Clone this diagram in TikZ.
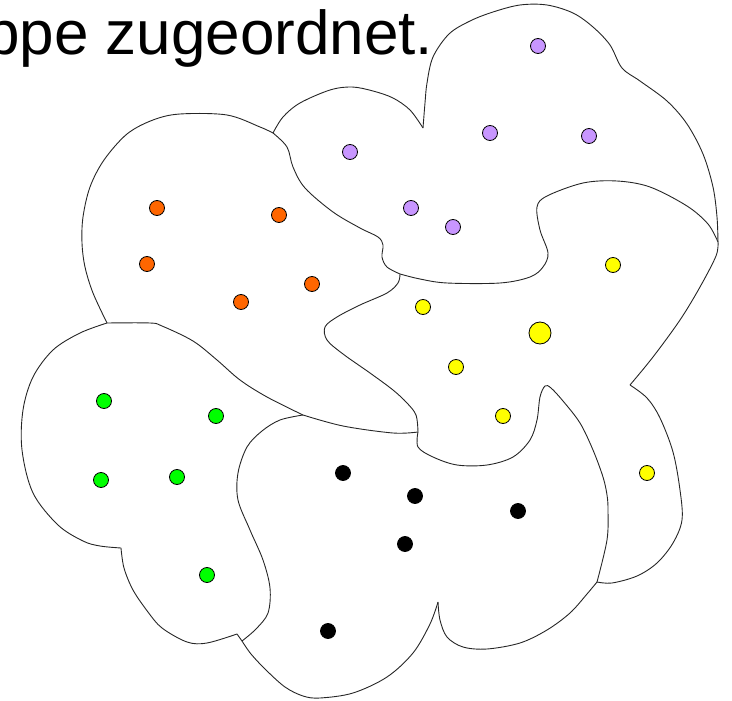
\documentclass[tikz,border=0pt]{standalone}
\usepackage{fontspec}
\setmainfont{Liberation Sans}
\definecolor{grpOrange}{RGB}{255,102,0}
\definecolor{grpViolet}{RGB}{200,150,255}
\definecolor{grpYellow}{RGB}{255,255,0}
\definecolor{grpGreen}{RGB}{0,255,0}
\tikzset{
  border/.style={line width=0.9pt, draw=black!85, line join=round},
  dot/.style={circle, draw=black, line width=0.8pt, minimum size=15pt, inner sep=0pt},
  bigdot/.style={dot, minimum size=22pt},
  sm/.style={smooth, tension=0.55}
}
\begin{document}
\begin{tikzpicture}[x=1pt, y=-1pt]
\useasboundingbox (0,0) rectangle (732,701);

% caption line
\node[anchor=base west, inner sep=0pt, font=\fontsize{62}{70}\selectfont] (caption) at (-15,55) {ppe zugeordnet.};

% junctions of the cluster borders
\coordinate (j1) at (107,323);
\coordinate (j2) at (273,133);
\coordinate (j3) at (400,274);
\coordinate (j4) at (303,415);
\coordinate (j5) at (418,432);
\coordinate (j6) at (718,242);
\coordinate (j7) at (597,582);
\coordinate (j8) at (242,641);

% outer border of the orange cluster
\draw[border] plot[sm] coordinates {(273,133) (260,127) (227,115) (180,114) (153,120) (127,134) (104,160) (90,187) (83,217) (82,243) (85,267) (93,293) (107,323)};
% orange / green
\draw[border] plot[sm] coordinates {(107,323) (150,323) (162,326) (193,341) (217,360) (240,380) (267,397) (303,415)};
% orange / black
\draw[border] plot[sm] coordinates {(303,415) (343,426) (393,433) (418,432)};
% orange / yellow
\draw[border] plot[sm] coordinates {(418,432) (416,415) (407,403) (393,390) (370,373) (343,354) (327,340) (325,327) (337,317) (360,305) (387,293) (398,283) (400,274)};
% orange / violet
\draw[border] plot[sm] coordinates {(400,274) (387,267) (382,257) (383,245) (378,237) (360,228) (333,212) (305,188) (293,167) (287,147) (273,133)};
% violet / yellow
\draw[border] plot[sm] coordinates {(400,274) (420,279) (447,283) (500,283) (530,277) (543,267) (548,253) (540,230) (537,207) (547,196) (583,183) (617,181) (650,187) (687,206) (708,224) (718,242)};
% outer border of the violet cluster
\draw[border] plot[sm] coordinates {(273,133) (283,117) (300,103) (330,90) (352,87) (373,91) (393,98) (410,110) (423,128)};
\draw[border] plot[sm] coordinates {(423,128) (425,103) (427,83) (433,57) (449,34) (470,21) (493,12) (520,5) (547,5) (573,13) (593,27) (610,45) (622,68) (640,81) (667,101) (687,124) (703,154) (713,187) (717,217) (718,242)};
% outer border of the yellow cluster
\draw[border] plot[sm] coordinates {(718,242) (716,256) (700,287) (680,320) (653,357) (630,385)};
\draw[border] plot[sm] coordinates {(630,385) (647,398) (660,418) (673,452) (680,490) (682,520) (673,543) (657,563) (637,576) (612,583) (597,582)};
% yellow / black
\draw[border] plot[sm] coordinates {(418,432) (418,447) (433,457) (457,465) (487,465) (513,457) (530,440) (537,420) (540,397) (545,386) (551,388) (563,401) (580,423) (593,450) (603,477) (607,495) (608,510) (607,540) (597,582)};
% outer border of the black cluster
\draw[border] plot[sm] coordinates {(597,582) (587,594) (570,613) (547,630) (520,643) (487,649) (463,647) (447,637) (440,620) (438,602)};
\draw[border] plot[sm] coordinates {(438,602) (430,624) (413,653) (387,677) (353,693) (320,698) (303,696) (285,687) (266,670) (251,654) (242,641)};
% green / black
\draw[border] plot[sm] coordinates {(303,415) (280,420) (262,431) (247,447) (238,473) (238,500) (250,530) (263,560) (270,588) (268,613) (256,629) (242,641)};
% outer border of the green cluster
\draw[border] plot[sm] coordinates {(107,323) (80,333) (53,350) (33,377) (23,410) (22,450) (33,493) (58,525) (83,541) (100,546) (121,548)};
\draw[border] plot[sm] coordinates {(121,548) (124,568) (133,590) (148,612) (162,628) (187,642) (207,643) (237,634)};
\draw[border] (237,634) -- (242,641);

% violet cluster
\node[dot, fill=grpViolet] (v1) at (538,46) {};
\node[dot, fill=grpViolet] (v2) at (490,133) {};
\node[dot, fill=grpViolet] (v3) at (589,136) {};
\node[dot, fill=grpViolet] (v4) at (350,152) {};
\node[dot, fill=grpViolet] (v5) at (411,208) {};
\node[dot, fill=grpViolet] (v6) at (453,227) {};
% orange cluster
\node[dot, fill=grpOrange] (o1) at (157,208) {};
\node[dot, fill=grpOrange] (o2) at (279,215) {};
\node[dot, fill=grpOrange] (o3) at (147,264) {};
\node[dot, fill=grpOrange] (o4) at (312,284) {};
\node[dot, fill=grpOrange] (o5) at (241,302) {};
% yellow cluster
\node[dot, fill=grpYellow] (y1) at (613,265) {};
\node[dot, fill=grpYellow] (y2) at (423,307) {};
\node[bigdot, fill=grpYellow] (y3) at (540,333) {};
\node[dot, fill=grpYellow] (y4) at (456,367) {};
\node[dot, fill=grpYellow] (y5) at (503,416) {};
\node[dot, fill=grpYellow] (y6) at (647,473) {};
% green cluster
\node[dot, fill=grpGreen] (g1) at (104,401) {};
\node[dot, fill=grpGreen] (g2) at (216,416) {};
\node[dot, fill=grpGreen] (g3) at (101,480) {};
\node[dot, fill=grpGreen] (g4) at (177,477) {};
\node[dot, fill=grpGreen] (g5) at (207,575) {};
% black cluster
\node[dot, fill=black] (b1) at (343,473) {};
\node[dot, fill=black] (b2) at (415,496) {};
\node[dot, fill=black] (b3) at (518,511) {};
\node[dot, fill=black] (b4) at (405,544) {};
\node[dot, fill=black] (b5) at (328,631) {};
\end{tikzpicture}
\end{document}
